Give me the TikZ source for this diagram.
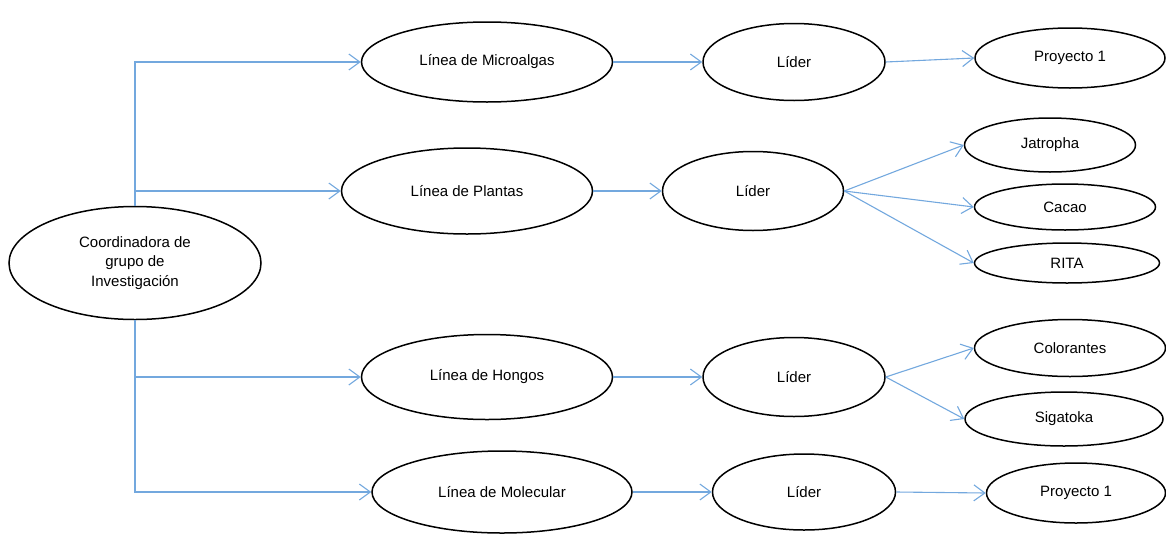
\documentclass[tikz,border=0pt]{standalone}
\usepackage{fontspec}
\setmainfont{Liberation Sans}
\usetikzlibrary{shapes,arrows.meta}
\definecolor{linkblue}{RGB}{115,168,222}

\tikzset{
  oval/.style = {ellipse,
                 draw,
                 line width = 1.5pt,
                 inner sep = 0pt,
                 align = center,
                 font = \fontsize{15}{19.5}\selectfont},
  link/.style = {draw = linkblue,
                 line width = 1.1pt,
                 -{Straight Barb[length=11pt,width=16pt]}}
}

\begin{document}
\begin{tikzpicture}[x=1pt,y=-1pt]
  \useasboundingbox (0,0) rectangle (1166,533);

      % coordinadora
      \node[oval, minimum width = 252pt, minimum height = 113pt] (C) at (135,263)
            {Coordinadora de\\grupo de\\Investigación};

      % lineas
      \node[oval, minimum width = 251pt, minimum height = 80pt] (LM) at (487,62) {Línea de Microalgas};
      \node[oval, minimum width = 251pt, minimum height = 86pt] (LP) at (467,191) {Línea de Plantas};
      \node[oval, minimum width = 251pt, minimum height = 85pt] (LH) at (487,377) {Línea de Hongos};
      \node[oval, minimum width = 260pt, minimum height = 82pt] (LMo) at (502,492) {Línea de Molecular};

      % lideres
      \node[oval, minimum width = 182pt, minimum height = 77pt] (D1) at (794,62) {Líder};
      \node[oval, minimum width = 181pt, minimum height = 79pt] (D2) at (753,191) {Líder};
      \node[oval, minimum width = 182pt, minimum height = 79pt] (D3) at (794,377) {Líder};
      \node[oval, minimum width = 183pt, minimum height = 76pt] (D4) at (804,492) {Líder};

      % proyectos
      \node[oval, minimum width = 190pt, minimum height = 60pt] (P1) at (1070,58) {Proyecto 1};
      \node[oval, minimum width = 171pt, minimum height = 54pt] (PJ) at (1050,145) {Jatropha};
      \node[oval, minimum width = 181pt, minimum height = 46pt] (PC) at (1065,207) {Cacao};
      \node[oval, minimum width = 185pt, minimum height = 40pt] (PR) at (1067,263) {RITA};
      \node[oval, minimum width = 191pt, minimum height = 57pt] (PCo) at (1070,348) {Colorantes};
      \node[oval, minimum width = 198pt, minimum height = 54pt] (PS) at (1064,419) {Sigatoka};
      \node[oval, minimum width = 179pt, minimum height = 60pt] (P2) at (1076,493) {Proyecto 1};

      % conexiones
      \draw[link] (C.north) |- (LM.west);
      \draw[link] (C.north) |- (LP.west);
      \draw[link] (C.south) |- (LH.west);
      \draw[link] (C.south) |- (LMo.west);

      \draw[link] (LM.east) -- (D1.west);
      \draw[link] (LP.east) -- (D2.west);
      \draw[link] (LH.east) -- (D3.west);
      \draw[link] (LMo.east) -- (D4.west);

      \draw[link] (D1.east) -- (P1.west);
      \draw[link] (D2.east) -- (PJ.west);
      \draw[link] (D2.east) -- (PC.west);
      \draw[link] (D2.east) -- (PR.west);
      \draw[link] (D3.east) -- (PCo.west);
      \draw[link] (D3.east) -- (PS.west);
      \draw[link] (D4.east) -- (P2.west);

  \end{tikzpicture}
\end{document}
